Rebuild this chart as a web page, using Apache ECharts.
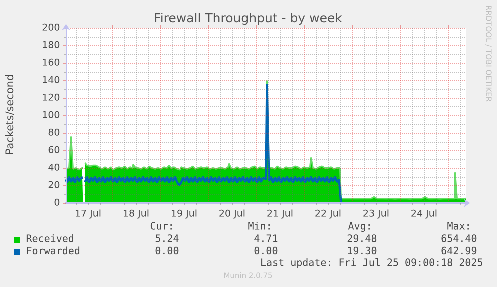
<!DOCTYPE html>
<html><head><meta charset="utf-8">
<script src="https://cdn.jsdelivr.net/npm/echarts@6/dist/echarts.min.js"></script>
<style>html,body{margin:0;padding:0;background:#f0f0f0;}#c{width:497px;height:287px;}</style>
</head><body><div id="c"></div>
<script>
// hours since 17 Jul 00:00 (graph spans 17 Jul 01:00 -> 25 Jul 09:00)
const hours = [];
for (let h = 1; h <= 201; h++) hours.push(String(h));
const dayLabels = ['17 Jul', '18 Jul', '19 Jul', '20 Jul', '21 Jul', '22 Jul', '23 Jul', '24 Jul'];
const yTicks = [0, 200, 20];

const received = [
  39, 40, 38, 76, 39, 40, 38, 39, 40, null,
  46, 43, 42, 43, 42, 43, 41, 40, 39, 41,
  40, 39, 41, 40, 38, 40, 41, 39, 40, 42,
  40, 39, 41, 40, 44, 41, 40, 39, 40, 41,
  39, 40, 42, 40, 39, 41, 40, 39, 40, 41,
  40, 39, 43, 40, 41, 39, 40, 38, 41, 40,
  39, 41, 40, 42, 40, 39, 40, 41, 39, 40,
  41, 40, 39, 40, 41, 39, 40, 42, 40, 39,
  40, 41, 45, 40, 39, 41, 40, 39, 40, 41,
  40, 39, 40, 41, 42, 40, 39, 41, 40, 41,
  40, 140, 41, 40, 39, 40, 42, 40, 39, 40,
  41, 40, 39, 40, 42, 40, 41, 39, 40, 41,
  40, 39, 41, 52, 40, 39, 41, 40, 42, 40,
  39, 40, 41, 40, 39, 40, 41, 40, 5, 5,
  5, 7, 5, 5, 4.8, 5, 5, 4.9, 5, 5,
  5, 5, 5, 5, 7, 5, 4.8, 5, 5, 5,
  4.9, 5, 5, 5, 4.8, 5, 5, 5, 4.9, 5,
  5, 5, 4.8, 5, 5, 5, 5, 5, 5, 7,
  5, 5, 4.9, 5, 5, 5, 5, 4.8, 5, 6,
  5, 5, 5, 5, 5, 35, 5, 5, 5, 5,
  5.24
];
const forwarded = [
  27, 23, 30, 24, 29, 23, 30, 25, 29, null,
  24, 30, 23, 29, 25, 30, 23, 29, 24, 30,
  23, 29, 25, 30, 24, 29, 23, 30, 25, 29,
  23, 30, 24, 29, 25, 30, 23, 29, 24, 30,
  25, 29, 23, 30, 24, 29, 23, 30, 25, 29,
  24, 30, 23, 29, 25, 30, 24, 20, 23, 29,
  25, 30, 23, 29, 24, 30, 23, 29, 25, 30,
  24, 29, 23, 30, 25, 29, 23, 30, 24, 29,
  25, 30, 23, 29, 24, 30, 23, 29, 25, 30,
  24, 29, 23, 30, 25, 29, 23, 30, 24, 29,
  27, 136, 25, 30, 23, 29, 24, 30, 23, 29,
  25, 30, 24, 29, 23, 30, 25, 29, 24, 30,
  23, 29, 25, 30, 24, 29, 23, 30, 25, 29,
  24, 30, 23, 29, 25, 30, 24, 27, 0, 0,
  0, 0, 0, 0, 0, 0, 0, 0, 0, 0,
  0, 0, 0, 0, 0, 0, 0, 0, 0, 0,
  0, 0, 0, 0, 0, 0, 0, 0, 0, 0,
  0, 0, 0, 0, 0, 0, 0, 0, 0, 0,
  0, 0, 0, 0, 0, 0, 0, 0, 0, 0,
  0, 0, 0, 0, 0, 0, 0, 0, 0, 0,
  0
];

const seriesNames = ['Received', 'Forwarded'];
const seriesColors = ['#00cc00', '#0066b3'];
const statHeaders = ['Cur:', 'Min:', 'Avg:', 'Max:'];
const receivedStats = ['5.24', '4.71', '29.48', '654.40'];
const forwardedStats = ['0.00', '0.00', '19.30', '642.99'];
const titleText = 'Firewall Throughput - by week';
const yAxisName = 'Packets/second';
const lastUpdate = 'Last update: Fri Jul 25 09:00:18 2025';
const sideText = 'RRDTOOL / TOBI OETIKER';
const footer = 'Munin 2.0.75';

const FONT = 'DejaVu Sans';
const MONO = 'DejaVu Sans Mono';
const majorGrid = 'rgba(225,50,50,0.45)';
const minorGrid = 'rgba(110,110,110,0.42)';
const axisCol = '#c0c0f0';
const textCol = '#4a4a4a';

const graphics = [];
function txt(x, y, text, style, rot) {
  graphics.push({
    type: 'text', x: x, y: y, rotation: rot || 0, silent: true, z: 100,
    style: Object.assign({ text: text, fill: textCol, font: '10px ' + MONO, align: 'left', verticalAlign: 'middle' }, style || {})
  });
}
txt(248, 19, titleText, { font: '12.5px ' + FONT, align: 'center', fill: '#555555' });
txt(10.5, 114.5, yAxisName, { font: '10.5px ' + FONT, align: 'center' }, Math.PI / 2);
txt(488, 53.5, sideText, { font: '7.5px ' + FONT, align: 'center', fill: '#bdbdbd' }, -Math.PI / 2);

const headerX = [150, 248, 348, 447];
const valueRight = [179, 278, 377, 477];
statHeaders.forEach((h, i) => txt(headerX[i], 227, h));
const rows = [receivedStats, forwardedStats];
const rowY = [239.5, 251.7];
rows.forEach((vals, r) => {
  graphics.push({ type: 'rect', silent: true, z: 100, shape: { x: 14, y: rowY[r] - 2.5, width: 6, height: 6 }, style: { fill: seriesColors[r] } });
  txt(26, rowY[r], seriesNames[r]);
  vals.forEach((v, i) => txt(valueRight[i], rowY[r], v, { align: 'right' }));
});
txt(483, 263.5, lastUpdate, { align: 'right' });
txt(248, 276, footer, { font: '7.5px ' + FONT, align: 'center', fill: '#c2c2c2' });

// higher backing resolution so ECharts keeps the 1-2 px step segments
const chart = echarts.init(document.getElementById('c'), null, { renderer: 'canvas', devicePixelRatio: 4 });
chart.setOption({
  backgroundColor: '#f0f0f0',
  animation: false,
  grid: { left: 66, right: 31, top: 28, bottom: 84, show: true, backgroundColor: '#ffffff', borderWidth: 0 },
  xAxis: [{
    type: 'category', data: hours, boundaryGap: false, z: 3,
    axisLine: { show: true, lineStyle: { color: axisCol, width: 2 }, symbol: ['none', 'arrow'], symbolSize: [6, 6], symbolOffset: [0, 4] },
    axisTick: { show: true, length: 2, interval: (i, v) => (+v) % 6 === 0 && (+v) % 24 !== 0, lineStyle: { color: minorGrid } },
    axisLabel: { show: true, interval: (i, v) => (+v) % 24 === 12, formatter: (v) => dayLabels[Math.floor(+v / 24)], color: textCol, fontSize: 9.5, fontFamily: FONT, margin: 6 },
    splitLine: { show: true, interval: (i, v) => (+v) % 6 === 0 && (+v) % 24 !== 0, lineStyle: { color: minorGrid, type: 'dotted' } }
  }, {
    type: 'category', data: hours, boundaryGap: false, z: 3,
    axisLine: { show: false }, axisLabel: { show: false },
    axisTick: { show: true, length: 3, interval: (i, v) => (+v) % 24 === 0, lineStyle: { color: majorGrid } },
    splitLine: { show: true, interval: (i, v) => (+v) % 24 === 0, lineStyle: { color: majorGrid, type: 'dotted' } }
  }],
  yAxis: {
    type: 'value', min: yTicks[0], max: yTicks[1], interval: yTicks[2], z: 3,
    axisLine: { show: true, lineStyle: { color: axisCol, width: 1 }, symbol: ['none', 'arrow'], symbolSize: [6, 6], symbolOffset: [0, 4] },
    axisTick: { show: true, length: 3, lineStyle: { color: majorGrid } },
    minorTick: { show: true, splitNumber: 2, length: 2, lineStyle: { color: minorGrid } },
    axisLabel: { color: textCol, fontSize: 9.5, fontFamily: FONT, margin: 6 },
    splitLine: { show: true, lineStyle: { color: majorGrid, type: 'dotted' } },
    minorSplitLine: { show: true, lineStyle: { color: minorGrid, type: 'dotted' } }
  },
  series: [{
    name: seriesNames[0], type: 'line', step: 'middle', data: received, symbol: 'none', z: 1,
    lineStyle: { color: '#66dd66', width: 1.5 }, areaStyle: { color: seriesColors[0], opacity: 1 }, itemStyle: { color: seriesColors[0] }
  }, {
    name: seriesNames[1], type: 'line', step: 'middle', data: forwarded, symbol: 'none', z: 2,
    lineStyle: { color: seriesColors[1], width: 2.2 }, itemStyle: { color: seriesColors[1] }
  }],
  graphic: graphics
});
</script>
</body></html>
